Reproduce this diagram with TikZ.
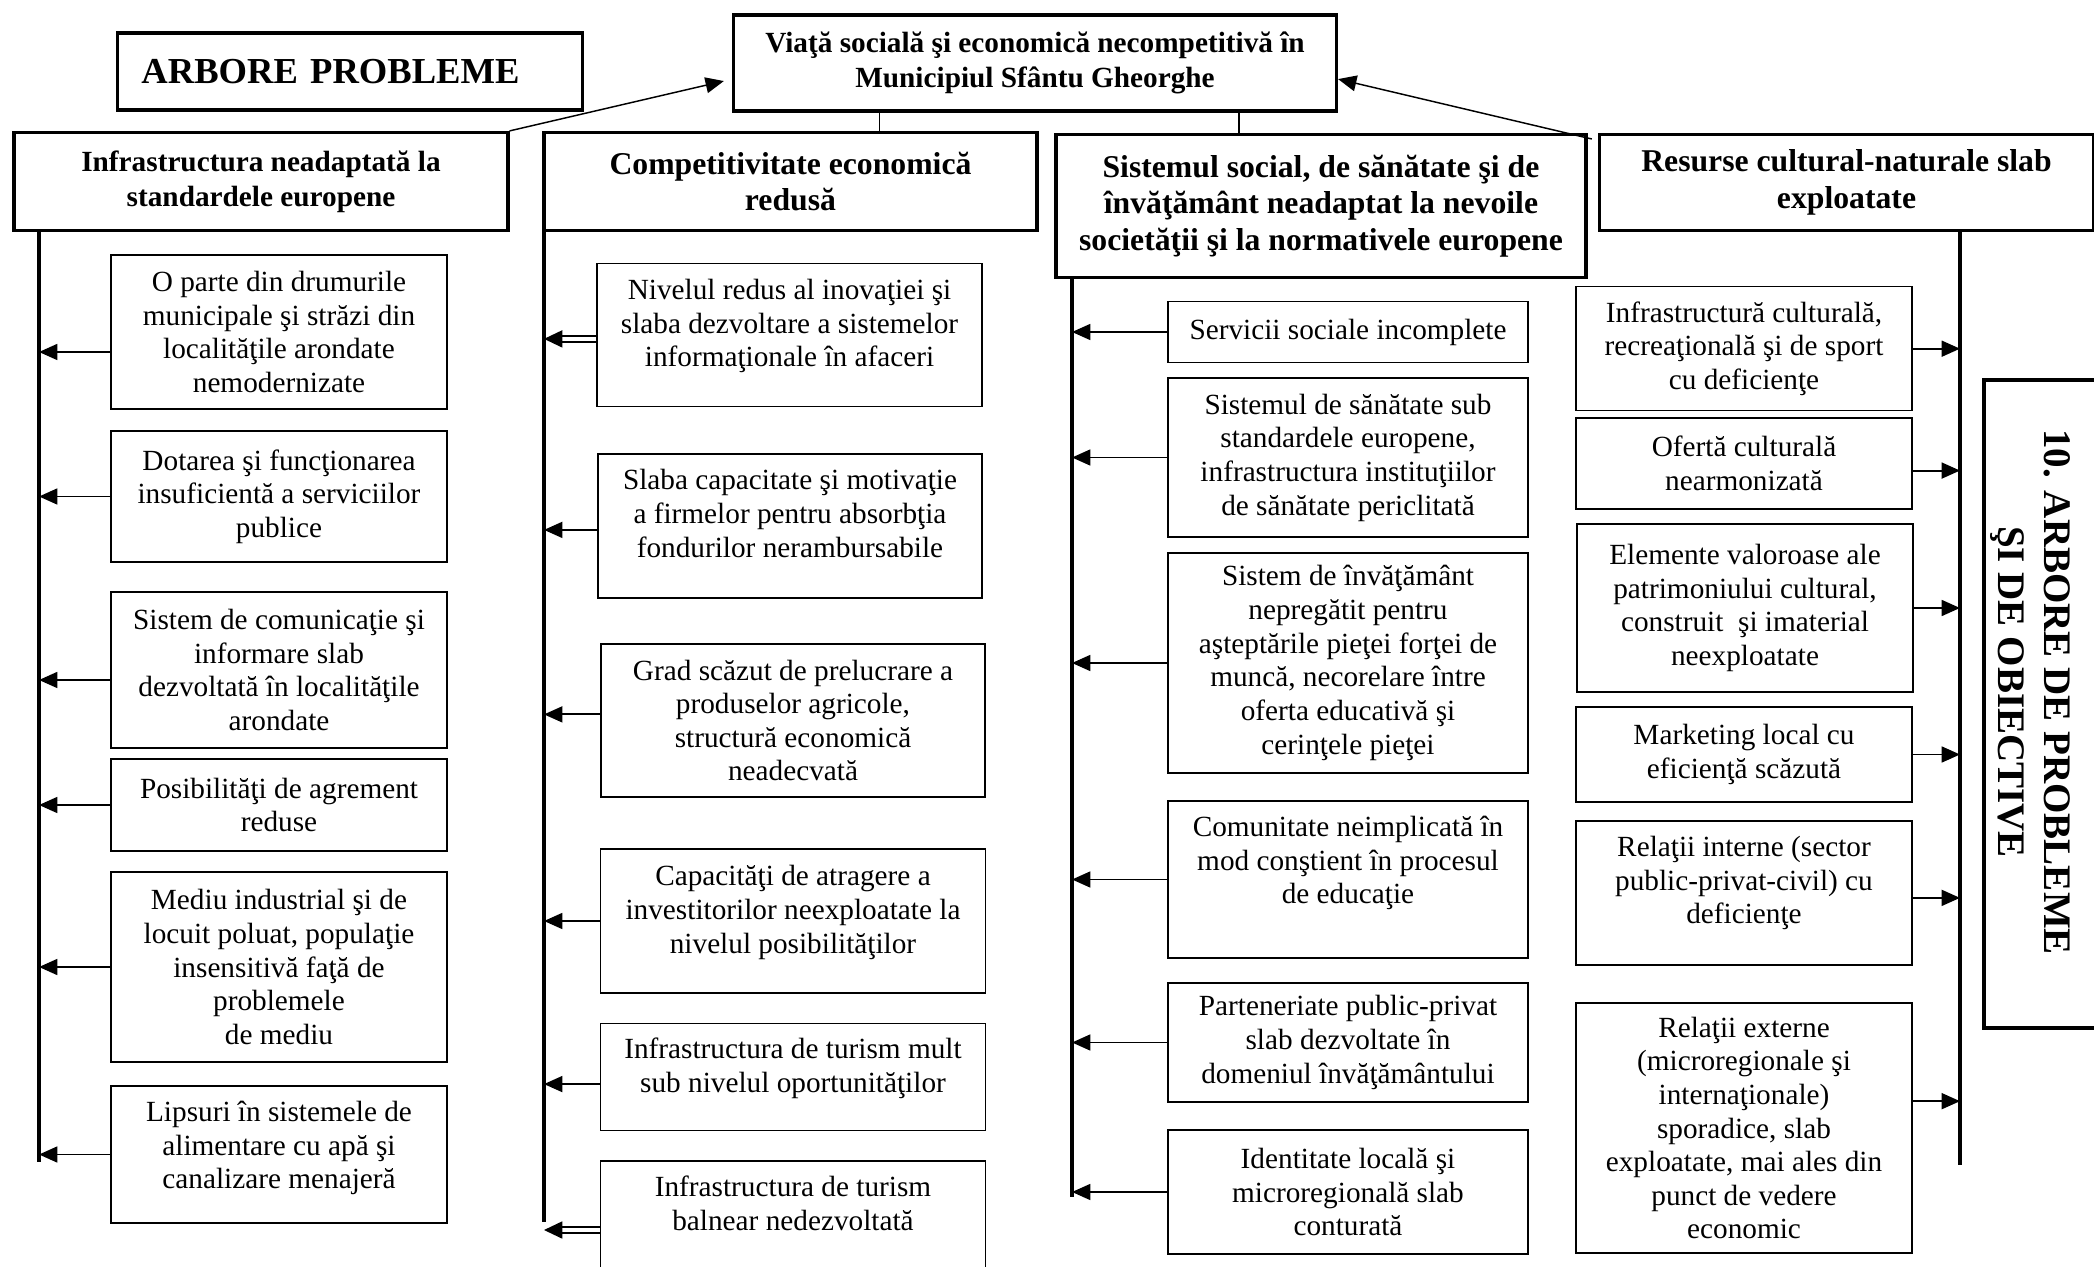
\documentclass[tikz,border=0pt]{standalone}
\usepackage{fontspec}
\setmainfont{Liberation Serif}
\usetikzlibrary{arrows.meta}
\newcommand\pxs{0.41pt}

\begin{document}
\begin{tikzpicture}[x=0.41pt,y=0.41pt,yscale=-1,xscale=1,
        cell/.style 2 args={draw, line width=0.6pt, align=center, inner sep=1pt, minimum width=#1*\pxs, minimum height=#2*\pxs, font=\fontsize{12}{13.8}\selectfont},
        head/.style 2 args={draw, line width=1.3pt, align=center, inner sep=1pt, minimum width=#1*\pxs, minimum height=#2*\pxs, font=\bfseries\fontsize{13}{15}\selectfont},
        spine/.style={line width=1.3pt},
        arr/.style={line width=0.8pt, -{Triangle[length=7.5pt,width=6.5pt]}},
        dbl/.style={double, double distance=1.8pt, line width=0.6pt, -{Triangle[length=7.5pt,width=7pt]}}]
        \useasboundingbox (0,0) rectangle (2094,1267);
        
        %Shape: Rectangle (title)
        \node [draw, line width=1.3pt, align=left, inner xsep=9.7pt, text width=171pt, minimum height=77*\pxs, font=\bfseries\fontsize{15}{17}\selectfont] (arbore) at (350,71.5) {ARBORE PROBLEME};
        %Shape: Rectangle (top problem)
        \node [head={603}{96}, font=\bfseries\fontsize{12}{14.2}\selectfont] (top) at (1035,63) {Viaţă socială şi economică necompetitivă în\\Municipiul Sfântu Gheorghe};
        
        %Shape: Rectangle (headers)
        \node [head={494}{98}, font=\bfseries\fontsize{12}{14.2}\selectfont] (h1) at (261,181.5) {Infrastructura neadaptată la\\standardele europene};
        \node [head={493}{98}] (h2) at (790.5,181.5) {Competitivitate economică\\redusă};
        \node [head={530}{143}] (h3) at (1321,206) {Sistemul social, de sănătate şi de\\învăţământ neadaptat la nevoile\\societăţii şi la normativele europene};
        \node [head={494}{96}] (h4) at (1846.5,182.5) {Resurse cultural-naturale slab\\exploatate};
        
        %Straight Lines
        \draw [line width=0.5pt] ([xshift=36.5pt]h2.north) -- ([xshift=36.5pt]h2.north |- top.south) ;
        \draw [line width=0.5pt] ([xshift=-33.6pt]h3.north) -- ([xshift=-33.6pt]h3.north |- top.south) ;
        \draw [arr, line width=0.6pt] (h1.north east) -- ([xshift=-3.3pt,yshift=7.4pt]top.west) ;
        \draw [arr, line width=0.6pt] ([xshift=-2.5pt,yshift=2.5pt]h4.north west) -- ([yshift=6.6pt]top.east) ;
        
        %Spines
        \coordinate (sp1) at (39,1162);
        \coordinate (sp2) at (544,1222);
        \coordinate (sp3) at (1072,1197);
        \coordinate (sp4) at (1960,1165);
        \draw [spine] (h1.south -| sp1) -- (sp1) ;
        \draw [spine] (h2.south -| sp2) -- (sp2) ;
        \draw [spine] (h3.south -| sp3) -- (sp3) ;
        \draw [spine] (h4.south -| sp4) -- (sp4) ;
        
        % Text Node (column 1)
        \node [cell={336}{154}] (b1) at (279,332) {O parte din drumurile\\municipale şi străzi din\\localităţile arondate\\nemodernizate};
        \node [cell={336}{131}] (b2) at (279,496.5) {Dotarea şi funcţionarea\\insuficientă a serviciilor\\publice};
        \node [cell={336}{156}] (b3) at (279,670) {Sistem de comunicaţie şi\\informare slab\\dezvoltată în localităţile\\arondate};
        \node [cell={336}{92}] (b4) at (279,805) {Posibilităţi de agrement\\reduse};
        \node [cell={336}{190}] (b5) at (279,967) {Mediu industrial şi de\\locuit poluat, populaţie\\insensitivă faţă de\\problemele\\de mediu};
        \node [cell={336}{137}] (b6) at (279,1154.5) {Lipsuri în sistemele de\\alimentare cu apă şi\\canalizare menajeră\\[-6pt]\mbox{}};
        
        % Text Node (column 2)
        \node [cell={385}{143}] (c1) at (789.5,335) {Nivelul redus al inovaţiei şi\\slaba dezvoltare a sistemelor\\informaţionale în afaceri\\[-4pt]\mbox{}};
        \node [cell={384}{144}] (c2) at (790,526) {Slaba capacitate şi motivaţie\\a firmelor pentru absorbţia\\fondurilor nerambursabile\\[-3.5pt]\mbox{}};
        \node [cell={384}{153}] (c3) at (793,720.5) {Grad scăzut de prelucrare a\\produselor agricole,\\structură economică\\neadecvată};
        \node [cell={385}{144}] (c4) at (793,921) {Capacităţi de atragere a\\investitorilor neexploatate la\\nivelul posibilităţilor\\[-4.3pt]\mbox{}};
        \node [cell={385}{107}] (c5) at (793,1077) {Infrastructura de turism mult\\sub nivelul oportunităţilor\\[-4.3pt]\mbox{}};
        \node [cell={385}{119}] (c6) at (793,1220.5) {Infrastructura de turism\\balnear nedezvoltată\\[0.6pt]\mbox{}};
        
        % Text Node (column 3)
        \node [cell={360}{61}] (d1) at (1348,332) {Servicii sociale incomplete};
        \node [cell={360}{159}] (d2) at (1348,457.5) {Sistemul de sănătate sub\\standardele europene,\\infrastructura instituţiilor\\de sănătate periclitată};
        \node [cell={360}{220}] (d3) at (1348,663) {Sistem de învăţământ\\nepregătit pentru\\aşteptările pieţei forţei de\\muncă, necorelare între\\oferta educativă şi\\cerinţele pieţei};
        \node [cell={360}{157}] (d4) at (1348,879.5) {Comunitate neimplicată în\\mod conştient în procesul\\de educaţie\\[2.2pt]\mbox{}};
        \node [cell={360}{119}] (d5) at (1348,1042.5) {Parteneriate public-privat\\slab dezvoltate în\\domeniul învăţământului};
        \node [cell={360}{124}] (d6) at (1348,1192) {Identitate locală şi\\microregională slab\\conturată};
        
        % Text Node (column 4)
        \node [cell={336}{124}] (e1) at (1744,348.7) {Infrastructură culturală,\\recreaţională şi de sport\\cu deficienţe};
        \node [cell={336}{91}] (e2) at (1744,463.5) {Ofertă culturală\\nearmonizată};
        \node [cell={336}{168}] (e3) at (1745,608) {Elemente valoroase ale\\patrimoniului cultural,\\construit\ \ şi imaterial\\neexploatate};
        \node [cell={336}{95}] (e4) at (1744,754.5) {Marketing local cu\\eficienţă scăzută};
        \node [cell={336}{144}] (e5) at (1744,893) {Relaţii interne (sector\\public-privat-civil) cu\\deficienţe\\[-3.1pt]\mbox{}};
        \node [cell={336}{250}] (e6) at (1744,1128) {Relaţii externe\\(microregionale şi\\internaţionale)\\sporadice, slab\\exploatate, mai ales din\\punct de vedere\\economic};
        
        %Straight Lines (column 1)
        \draw [arr] ([yshift=8.2pt]b1.west) -- ([yshift=8.2pt]b1.west -| sp1) ;
        \draw [arr] (b2.west) -- (b2.west -| sp1) ;
        \draw [arr] ([yshift=4.1pt]b3.west) -- ([yshift=4.1pt]b3.west -| sp1) ;
        \draw [arr] (b4.west) -- (b4.west -| sp1) ;
        \draw [arr] (b5.west) -- (b5.west -| sp1) ;
        \draw [arr] (b6.west) -- (b6.west -| sp1) ;
        
        %Straight Lines (column 2)
        \draw [dbl] ([yshift=1.6pt]c1.west) -- ([yshift=1.6pt]c1.west -| sp2) ;
        \draw [arr] ([yshift=1.6pt]c2.west) -- ([yshift=1.6pt]c2.west -| sp2) ;
        \draw [arr] ([yshift=-2.5pt]c3.west) -- ([yshift=-2.5pt]c3.west -| sp2) ;
        \draw [arr] (c4.west) -- (c4.west -| sp2) ;
        \draw [arr] ([yshift=2.9pt]c5.west) -- ([yshift=2.9pt]c5.west -| sp2) ;
        \draw [dbl] ([yshift=3.9pt]c6.west) -- ([yshift=3.9pt]c6.west -| sp2) ;
        
        %Straight Lines (column 3)
        \draw [arr] (d1.west) -- (d1.west -| sp3) ;
        \draw [arr] (d2.west) -- (d2.west -| sp3) ;
        \draw [arr] (d3.west) -- (d3.west -| sp3) ;
        \draw [arr] (d4.west) -- (d4.west -| sp3) ;
        \draw [arr] (d5.west) -- (d5.west -| sp3) ;
        \draw [arr] (d6.west) -- (d6.west -| sp3) ;
        
        %Straight Lines (column 4)
        \draw [arr] (e1.east) -- (e1.east -| sp4) ;
        \draw [arr] ([yshift=2.9pt]e2.east) -- ([yshift=2.9pt]e2.east -| sp4) ;
        \draw [arr] (e3.east) -- (e3.east -| sp4) ;
        \draw [arr] (e4.east) -- (e4.east -| sp4) ;
        \draw [arr] ([yshift=2pt]e5.east) -- ([yshift=2pt]e5.east -| sp4) ;
        \draw [arr] ([yshift=-11pt]e6.east) -- ([yshift=-11pt]e6.east -| sp4) ;
        
        %Shape: side frame
        \draw [line width=1.3pt] (2100,380) -| (1984,1028) -- (2100,1028) ;
        % Text Node
        \node [rotate=-90, align=center, inner sep=1pt, font=\bfseries\fontsize{16}{18.9}\selectfont] (side) at (2030,692) {10. ARBORE DE PROBLEME\\ŞI DE OBIECTIVE};
        
\end{tikzpicture}
\end{document}
